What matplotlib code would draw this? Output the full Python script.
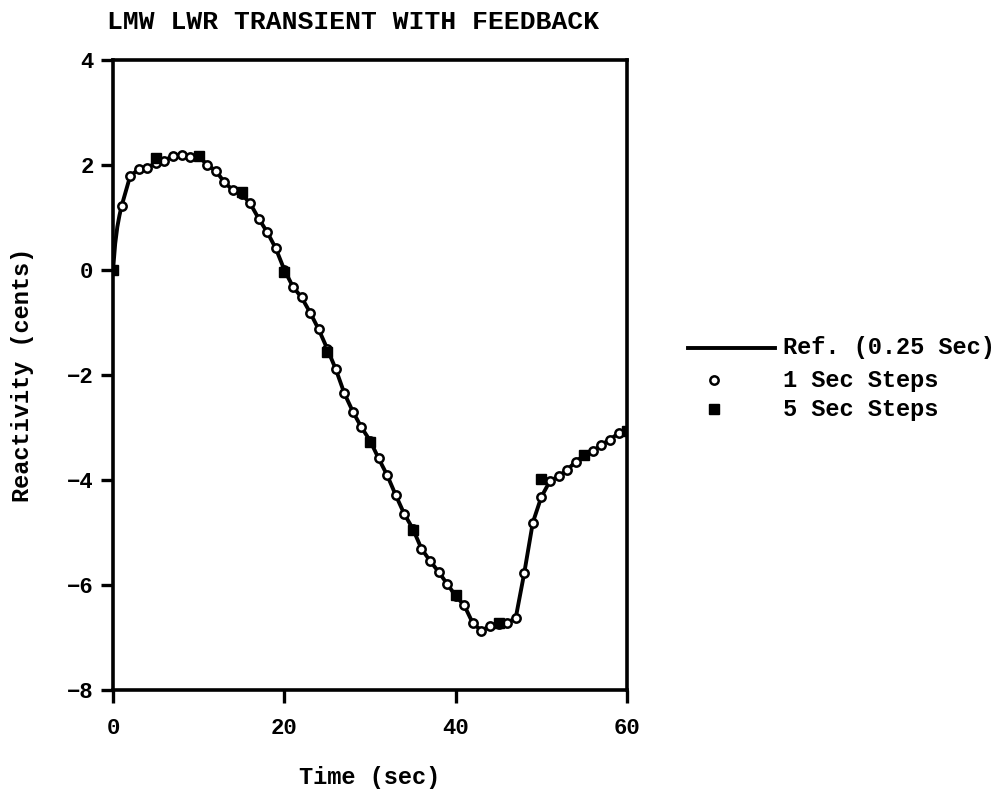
import numpy as np
import matplotlib.pyplot as plt
from matplotlib.lines import Line2D

plt.rcParams['font.family'] = ['Liberation Mono', 'DejaVu Sans Mono']
plt.rcParams['font.weight'] = 'bold'

# 1 sec steps (t = 0..60)
t1 = list(range(61))
v1 = [0.0, 1.22, 1.79, 1.92, 1.95, 2.04, 2.08, 2.18, 2.19, 2.16,
      2.17, 2.0, 1.89, 1.67, 1.52, 1.45, 1.27, 0.98, 0.72, 0.41,
      0.0, -0.32, -0.52, -0.81, -1.13, -1.5, -1.89, -2.35, -2.7, -3.0,
      -3.25, -3.59, -3.91, -4.29, -4.65, -4.93, -5.31, -5.54, -5.75, -5.98,
      -6.21, -6.39, -6.73, -6.87, -6.78, -6.74, -6.72, -6.63, -5.77, -4.81,
      -4.32, -4.02, -3.93, -3.81, -3.65, -3.53, -3.45, -3.33, -3.23, -3.11,
      -3.07]

# 5 sec steps
t5 = [0, 5, 10, 15, 20, 25, 30, 35, 40, 45, 50, 55, 60]
v5 = [0.0, 2.13, 2.17, 1.49, -0.03, -1.56, -3.27, -4.95, -6.2, -6.73,
      -3.98, -3.53, -3.07]

# reference run (0.25 sec), extra points near the start
tr = [0, 0.25, 0.5, 0.75] + t1[1:]
vr = [0.0, 0.5, 0.82, 1.04] + v1[1:]

fig = plt.figure(figsize=(10.03, 7.97), dpi=100)
ax = fig.add_axes([0.1127, 0.1343, 0.5125, 0.7904])

ax.plot(tr, vr, color='black', lw=2.8, zorder=2)
ax.plot(t1, v1, 'o', ms=6, mfc='white', mec='black', mew=1.8, zorder=3)
ax.plot(t5, v5, 's', ms=7, mfc='black', mec='black', zorder=4)

ax.set_xlim(0, 60)
ax.set_ylim(-8, 4)
ax.set_xticks([0, 20, 40, 60])
ax.set_yticks([-8, -6, -4, -2, 0, 2, 4])
for s in ax.spines.values():
    s.set_linewidth(2.6)
ax.tick_params(direction='out', length=9, width=2.4, labelsize=16, pad=5)
ax.tick_params(axis='x', pad=11)

fig.text(0.352, 0.972, 'LMW LWR TRANSIENT WITH FEEDBACK', ha='center', va='center',
         fontsize=19, fontweight='bold')
fig.text(0.369, 0.024, 'Time (sec)', ha='center', va='center', fontsize=17,
         fontweight='bold')
fig.text(0.022, 0.53, 'Reactivity (cents)', ha='center', va='center',
         rotation=90, fontsize=17, fontweight='bold')

# legend
fig.add_artist(Line2D([0.686, 0.773], [0.5634, 0.5634], color='black', lw=2.8,
                      transform=fig.transFigure))
fig.add_artist(Line2D([0.712], [0.5232], marker='o', ms=6, mfc='white',
                      mec='black', mew=1.8, transform=fig.transFigure))
fig.add_artist(Line2D([0.712], [0.4868], marker='s', ms=7, mfc='black',
                      mec='black', transform=fig.transFigure))
fig.text(0.781, 0.5634, 'Ref. (0.25 Sec)', va='center', fontsize=17, fontweight='bold')
fig.text(0.781, 0.5232, '1 Sec Steps', va='center', fontsize=17, fontweight='bold')
fig.text(0.781, 0.4868, '5 Sec Steps', va='center', fontsize=17, fontweight='bold')

fig.savefig('out.png', dpi=100)
